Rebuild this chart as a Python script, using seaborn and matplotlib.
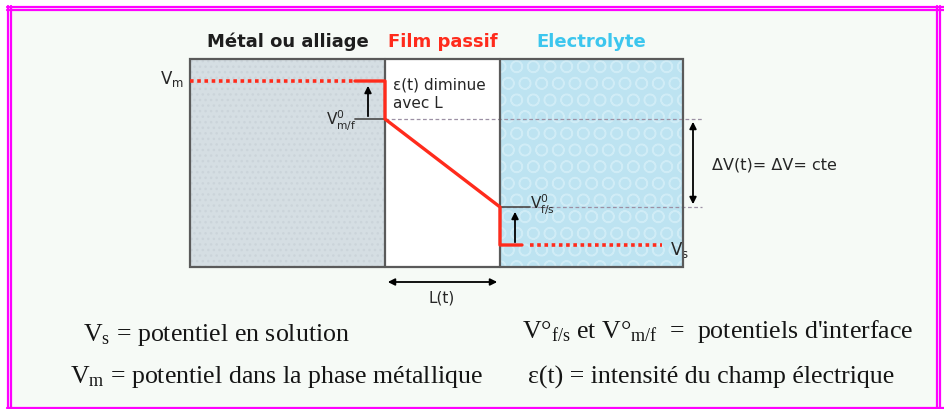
import matplotlib.pyplot as plt
import seaborn as sns
import pandas as pd
from matplotlib.patches import Rectangle

sns.set_theme(style="white")
plt.rcParams['font.family'] = ['DejaVu Sans']
plt.rcParams['mathtext.fontset'] = 'custom'
plt.rcParams['mathtext.rm'] = 'Liberation Serif'
plt.rcParams['mathtext.it'] = 'Liberation Serif:italic'
plt.rcParams['mathtext.sf'] = 'DejaVu Sans'

# regions of the cell (x boundaries, in picture units)
regions = ["Métal ou alliage", "Film passif", "Electrolyte"]
region_edges = [190, 385, 500, 683]
region_fill = ["#d5dee3", "#ffffff", "#bde3f1"]
title_colors = ["#1e1e1e", "#ff2b1c", "#3cc6ee"]
box_top, box_bottom = 60, 268

# potential levels (y, downwards)
level_names = [r"$\mathsf{V_m}$", r"$\mathsf{V^0_{m/f}}$", r"$\mathsf{V^0_{f/s}}$", r"$\mathsf{V_s}$"]
level_y = [82, 120, 208, 246]

# potential profile through the film
profile_x = [355, 385, 385, 500, 500, 522]
profile_y = [82, 82, 120, 208, 246, 246]

legend_left = [r"V$_\mathrm{s}$ = potentiel en solution",
               r"V$_\mathrm{m}$ = potentiel dans la phase métallique"]
legend_right = [r"V°$_\mathrm{f/s}$ et V°$_\mathrm{m/f}$  =  potentiels d'interface",
                r"ε(t) = intensité du champ électrique"]

fig = plt.figure(figsize=(9.45, 4.1), dpi=100)
fig.patch.set_facecolor("white")
ax = fig.add_axes([0, 0, 1, 1])
ax.set_xlim(0, 945)
ax.set_ylim(410, 0)
ax.axis("off")

# page background and magenta frame
ax.add_patch(Rectangle((9, 9), 930, 400, facecolor="#f6faf6", edgecolor="none", zorder=0))
mag = "#ff00ff"
for y in [7.5, 10.5]:
    ax.plot([7, 945], [y, y], color=mag, lw=1.6, zorder=1)
for x in [7.5, 10.5]:
    ax.plot([x, x], [7, 409], color=mag, lw=1.6, zorder=1)
for x in [937, 940]:
    ax.plot([x, x], [7, 409], color=mag, lw=1.6, zorder=1)
ax.plot([7, 945], [408.5, 408.5], color=mag, lw=1.6, zorder=1)

# region boxes
for i, name in enumerate(regions):
    x0, x1 = region_edges[i], region_edges[i + 1]
    ax.add_patch(Rectangle((x0, box_top), x1 - x0, box_bottom - box_top,
                           facecolor=region_fill[i], edgecolor="none", zorder=2))
    ax.text((x0 + x1) / 2, 42, name, color=title_colors[i], fontsize=13,
            fontweight="bold", ha="center", va="center")
ax.add_patch(Rectangle((region_edges[2], box_top), region_edges[3] - region_edges[2],
                       box_bottom - box_top, facecolor="none", edgecolor="#d0ecf6",
                       hatch="O", lw=0, zorder=2))
ax.add_patch(Rectangle((region_edges[0], box_top), region_edges[1] - region_edges[0],
                       box_bottom - box_top, facecolor="none", edgecolor="#cbd4da",
                       hatch="...", lw=0, zorder=2))
ax.add_patch(Rectangle((region_edges[0], box_top), region_edges[-1] - region_edges[0],
                       box_bottom - box_top, facecolor="none", edgecolor="#5a5a5a",
                       lw=1.6, zorder=4))
for x in region_edges[1:3]:
    ax.plot([x, x], [box_top, box_bottom], color="#5a5a5a", lw=1.6, zorder=4)

# reference dashed levels
dash = "#9c90a4"
ax.plot([385, 702], [level_y[1]] * 2, color=dash, lw=0.9, ls=(0, (3, 2)), zorder=3)
ax.plot([500, 702], [level_y[2]] * 2, color=dash, lw=0.9, ls=(0, (3, 2)), zorder=3)
ax.plot([355, 385], [level_y[1]] * 2, color="#555555", lw=1.3, zorder=5)
ax.plot([500, 530], [level_y[2]] * 2, color="#555555", lw=1.3, zorder=5)

# red potential profile
ax.plot([190, 355], [level_y[0]] * 2, color="#ff2b1c", lw=2.6, ls=(0, (1, 1)), zorder=6)
ax.plot([530, 662], [level_y[3]] * 2, color="#ff2b1c", lw=2.6, ls=(0, (1, 1)), zorder=6)
prof = pd.DataFrame({"x": profile_x, "y": profile_y})
sns.lineplot(data=prof, x="x", y="y", sort=False, estimator=None,
             color="#ff2b1c", lw=2.4, ax=ax, zorder=6)
ax.set_xlim(0, 945)
ax.set_ylim(410, 0)
ax.axis("off")

arr = dict(arrowstyle="-|>", color="black", lw=1.3, mutation_scale=10)
ax.annotate("", xy=(368, level_y[0] + 2), xytext=(368, level_y[1]), arrowprops=arr, zorder=7)
ax.annotate("", xy=(515, level_y[2] + 2), xytext=(515, level_y[3]), arrowprops=arr, zorder=7)
arr2 = dict(arrowstyle="<|-|>", color="black", lw=1.3, mutation_scale=10)
ax.annotate("", xy=(693, level_y[1]), xytext=(693, level_y[2]), arrowprops=arr2)
ax.annotate("", xy=(385, 283), xytext=(500, 283), arrowprops=arr2)

# labels
ax.text(172, 79, level_names[0], fontsize=12, ha="center", va="center")
ax.text(357, 121, level_names[1], fontsize=11, ha="right", va="center", zorder=7)
ax.text(530, 205, level_names[2], fontsize=11, ha="left", va="center", zorder=7)
ax.text(670, 250, level_names[3], fontsize=12, ha="left", va="center")
ax.text(393, 94, "ε(t) diminue\navec L", fontsize=11, ha="left", va="center",
        linespacing=1.3)
ax.text(712, 165, "ΔV(t)= ΔV= cte", fontsize=11.5, ha="left", va="center")
ax.text(442, 298, "L(t)", fontsize=11, ha="center", va="center")

for i, s in enumerate(legend_left):
    ax.text([83, 70][i], [335, 377][i], s, family="Liberation Serif", fontsize=18.6,
            ha="left", va="center", color="#151515")
for i, s in enumerate(legend_right):
    ax.text([522, 528][i], [332, 377][i], s, family="Liberation Serif", fontsize=18.6,
            ha="left", va="center", color="#151515")

fig.savefig("out.png", dpi=100)
